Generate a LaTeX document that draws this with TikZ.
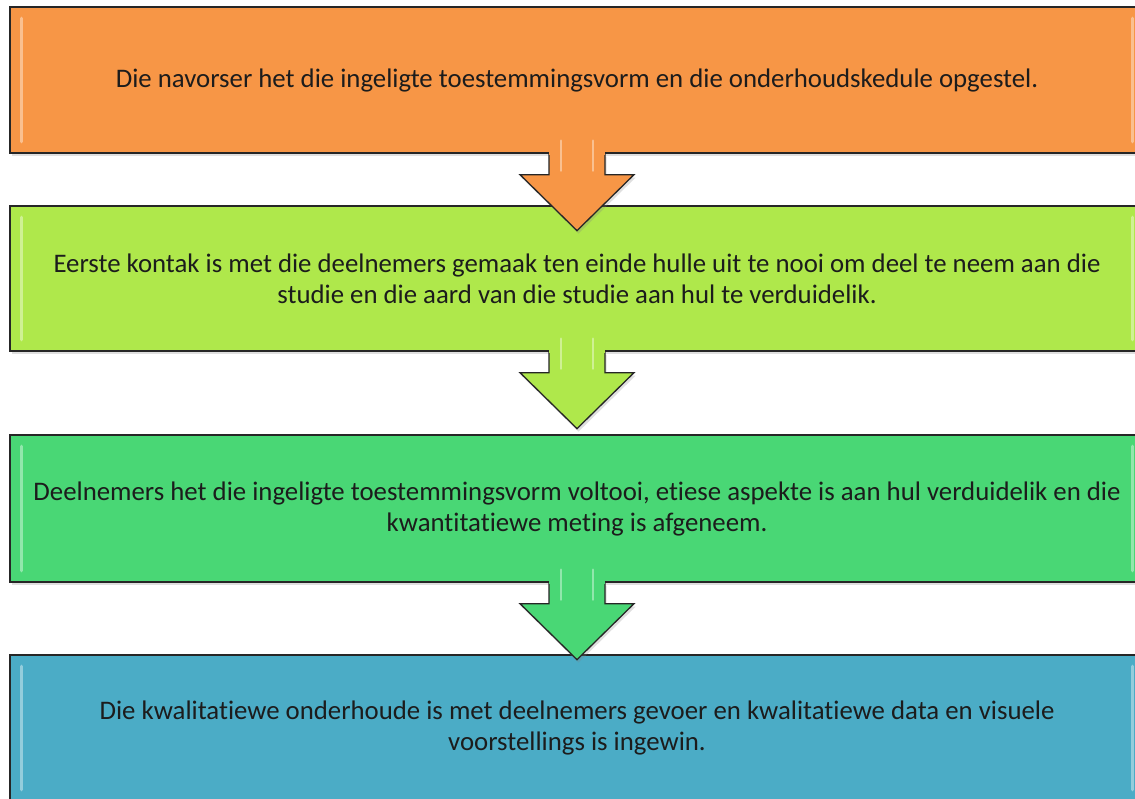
\documentclass[tikz,border=0pt]{standalone}
\usepackage{fontspec}
\setmainfont{Carlito}[Ligatures=NoCommon]
\usetikzlibrary{calc,shadows}
\definecolor{stepOrange}{HTML}{F79646}
\definecolor{stepLime}{HTML}{AFE84B}
\definecolor{stepGreen}{HTML}{49D775}
\definecolor{stepBlue}{HTML}{4BACC6}
\definecolor{stepText}{HTML}{1C1C1C}
\tikzset{
  stepbox/.style={draw=black!85, line width=1.3pt, minimum width=1134pt,
    inner sep=0pt, align=center, text=stepText, font=\fontsize{26.8}{31}\selectfont,
    drop shadow={shadow xshift=1.5pt, shadow yshift=-3pt, opacity=0.25}},
  flowarrow/.style={draw=black!85, line width=1.3pt, line join=miter,
    drop shadow={shadow xshift=1.5pt, shadow yshift=-3pt, opacity=0.25}},
  bevel/.style={white, opacity=0.4, line width=3.5pt, line cap=round}
}
\newcommand{\bevelBox}[1]{
    % light inner edges
    \draw[bevel] ($(#1.north west)+(12,12)$) -- ($(#1.south west)+(12,-12)$);
    \draw[bevel] ($(#1.north east)+(-12,12)$) -- ($(#1.south east)+(-12,-12)$);
}
\newcommand{\flowArrow}[3]{
    % block arrow hanging from the box #1, tip named #2
    \coordinate (#2) at ($(#1.south)+(0,77)$);
    \filldraw[flowarrow, fill=#3] ($(#1.south)+(-28,0)$) -- ++(0,21) -- ++(-29,0)
      -- (#2) -- ($(#1.south)+(57,21)$) -- ++(-29,0) -- ++(0,-21);
    \fill[#3] ($(#1.south)+(-28,-16)$) rectangle ($(#1.south)+(28,1)$);
    \draw[bevel, line width=2.5pt] ($(#1.south)+(-16,-13)$) -- ++(0,30);
    \draw[bevel, line width=2.5pt] ($(#1.south)+(16,-13)$) -- ++(0,30);
}
\begin{document}
\begin{tikzpicture}[x=1pt, y=-1pt]
  \clip (0,0) rectangle (1135,798);
  \fill[white] (0,0) rectangle (1135,798);

  % the four steps
  \node[stepbox, fill=stepOrange, minimum height=146pt] (s1) at (577,80)
    {Die navorser het die ingeligte toestemmingsvorm en die onderhoudskedule opgestel.};
  \node[stepbox, fill=stepLime, minimum height=145pt] (s2) at (577,278.5)
    {Eerste kontak is met die deelnemers gemaak ten einde hulle uit te nooi om deel te neem aan die\\
     studie en die aard van die studie aan hul te verduidelik.};
  \node[stepbox, fill=stepGreen, minimum height=147pt] (s3) at (577,508.5)
    {Deelnemers het die ingeligte toestemmingsvorm voltooi, etiese aspekte is aan hul verduidelik en die\\
     kwantitatiewe meting is afgeneem.};
  \node[stepbox, fill=stepBlue, minimum height=146pt] (s4) at (577,728)
    {Die kwalitatiewe onderhoude is met deelnemers gevoer en kwalitatiewe data en visuele\\
     voorstellings is ingewin.};
  \foreach \s in {s1,s2,s3,s4} {
    \bevelBox{\s}
  }

  % arrows between the steps
  \flowArrow{s1}{t1}{stepOrange}
  \flowArrow{s2}{t2}{stepLime}
  \flowArrow{s3}{t3}{stepGreen}
\end{tikzpicture}
\end{document}
